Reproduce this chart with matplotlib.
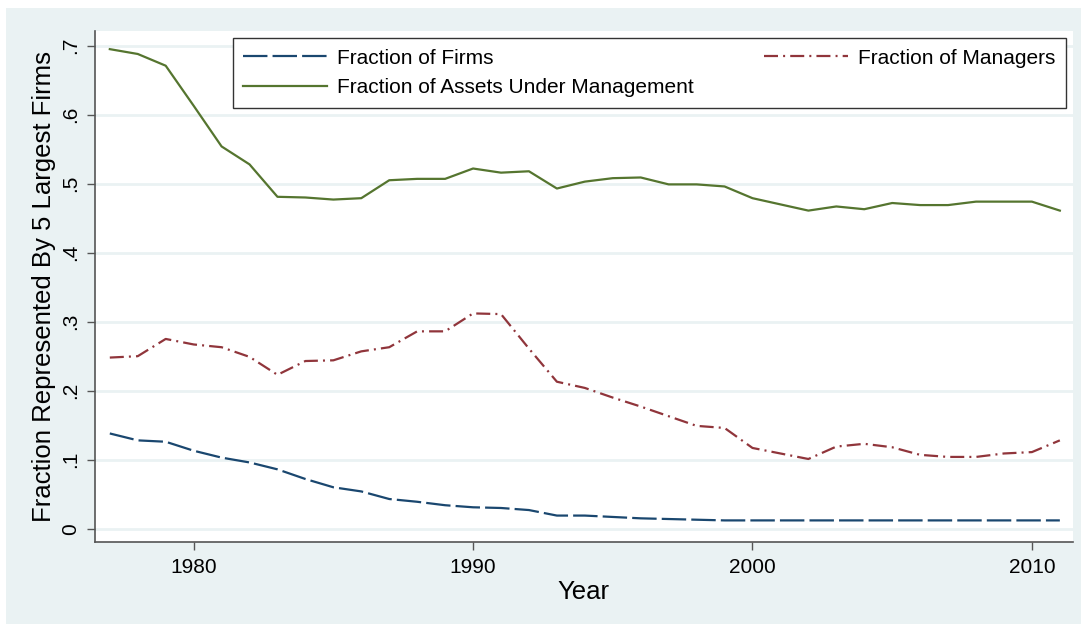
import matplotlib
matplotlib.use("Agg")
import matplotlib.pyplot as plt
from matplotlib.patches import Rectangle

plt.rcParams['font.family'] = ['Liberation Sans', 'DejaVu Sans']

# data
years = list(range(1977, 2012))

firms = [0.138, 0.128, 0.126, 0.113, 0.103, 0.096, 0.086, 0.072, 0.060, 0.054,
         0.043, 0.039, 0.034, 0.031, 0.030, 0.027, 0.019, 0.019, 0.017, 0.015,
         0.014, 0.013, 0.012, 0.012, 0.012, 0.012, 0.012, 0.012, 0.012, 0.012,
         0.012, 0.012, 0.012, 0.012, 0.012]

managers = [0.248, 0.250, 0.275, 0.267, 0.263, 0.249, 0.223, 0.243, 0.244, 0.257,
            0.263, 0.286, 0.286, 0.312, 0.311, 0.261, 0.213, 0.204, 0.190, 0.177,
            0.163, 0.149, 0.146, 0.117, 0.109, 0.101, 0.119, 0.123, 0.118, 0.107,
            0.104, 0.104, 0.109, 0.111, 0.128]

assets = [0.695, 0.688, 0.671, 0.613, 0.554, 0.528, 0.481, 0.480, 0.477, 0.479,
          0.505, 0.507, 0.507, 0.522, 0.516, 0.518, 0.493, 0.503, 0.508, 0.509,
          0.499, 0.499, 0.496, 0.479, 0.470, 0.461, 0.467, 0.463, 0.472, 0.469,
          0.469, 0.474, 0.474, 0.474, 0.461]

labels = ['Fraction of Firms', 'Fraction of Assets Under Management', 'Fraction of Managers']
yticks = [0, 0.1, 0.2, 0.3, 0.4, 0.5, 0.6, 0.7]
ytick_labels = ['0', '.1', '.2', '.3', '.4', '.5', '.6', '.7']
xticks = [1980, 1990, 2000, 2010]

navy = '#1A476F'
maroon = '#90353B'
green = '#55752F'
region = '#EAF2F3'

fig = plt.figure(figsize=(10.81, 6.24), dpi=100)
fig.patch.set_facecolor('white')
fig.patches.append(Rectangle((6 / 1081, 0), 1, (624 - 8) / 624, transform=fig.transFigure,
                             facecolor=region, edgecolor='none', zorder=-10))

ax = fig.add_axes([95 / 1081, (624 - 542) / 624, (1072.7 - 95) / 1081, (542 - 31) / 624])
ax.set_facecolor('white')

lw = 1.6
l_firms, = ax.plot(years, firms, color=navy, lw=lw, dashes=[11, 2.3])
l_assets, = ax.plot(years, assets, color=green, lw=lw)
l_mgr, = ax.plot(years, managers, color=maroon, lw=lw, dashes=[6.3, 2.3, 0.9, 2.3])

ax.set_xlim(1976.47, 2011.46)
ax.set_ylim(-0.0193, 0.7213)

ax.set_yticks(yticks)
ax.set_yticklabels(ytick_labels, rotation=90, va='center')
ax.set_xticks(xticks)
ax.yaxis.grid(True, color=region, lw=2.0)
ax.set_axisbelow(True)

for s in ['top', 'right']:
    ax.spines[s].set_visible(False)
for s in ['left', 'bottom']:
    ax.spines[s].set_color('#555555')
    ax.spines[s].set_linewidth(1.2)

ax.tick_params(axis='both', colors='#555555', labelcolor='black', labelsize=15,
               length=5.5, width=1.0)
ax.tick_params(axis='y', pad=5)
ax.tick_params(axis='x', pad=6)

ax.set_ylabel('Fraction Represented By 5 Largest Firms', fontsize=18.5, labelpad=4)
ax.set_xlabel('Year', fontsize=18.5, labelpad=2)

leg = ax.legend([l_firms, l_assets, l_mgr], labels, ncol=2, mode='expand',
                loc='upper left', bbox_to_anchor=(0.1411, 0.0, 0.852, 0.9857),
                borderaxespad=0, fontsize=15, handlelength=4, handletextpad=0.5,
                labelspacing=0.5, borderpad=0.5, fancybox=False, framealpha=1)
leg.get_frame().set_edgecolor('#333333')
leg.get_frame().set_linewidth(1.0)

fig.savefig('out.png', dpi=100)
